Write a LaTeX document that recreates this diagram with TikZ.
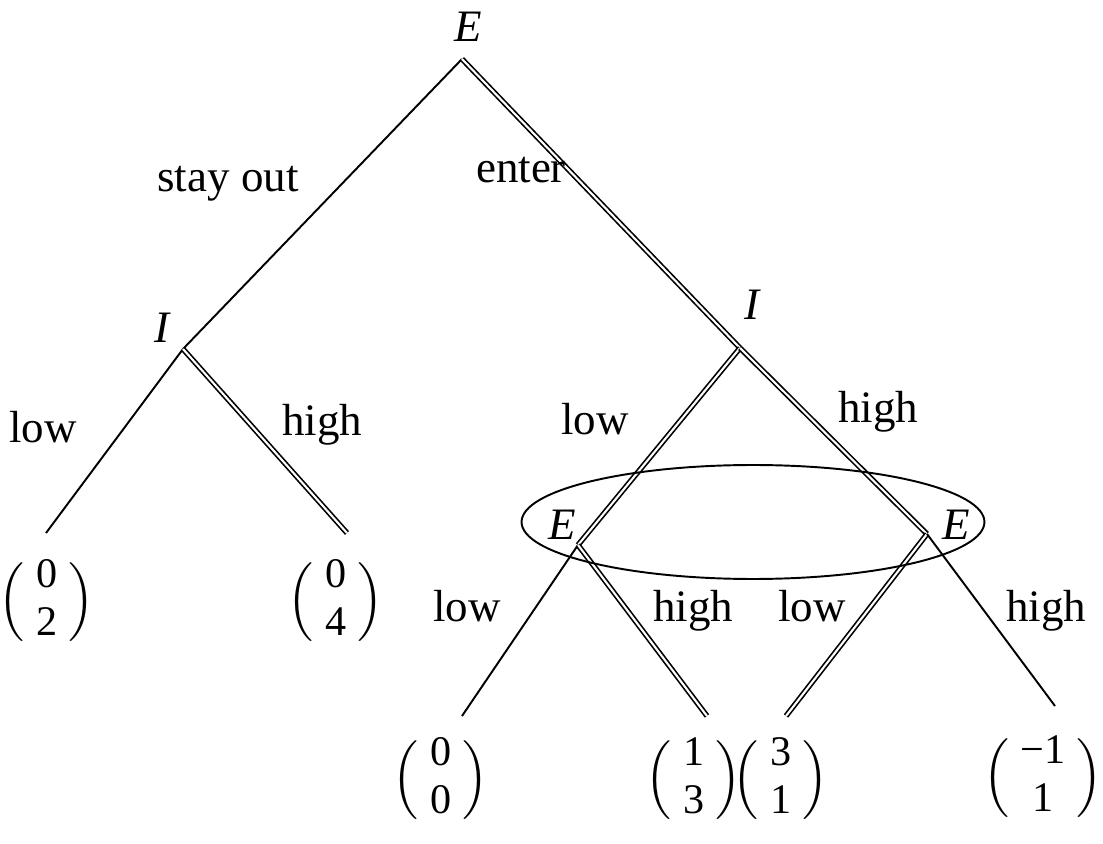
\documentclass[tikz,border=0pt]{standalone}
\usepackage{amsmath}
\usepackage{fontspec}
\setmainfont{Liberation Serif}
\usepackage{tikz}
\usetikzlibrary{positioning}
\newcommand{\payoff}[2]{{\fontsize{24}{27}\selectfont\setlength{\arraycolsep}{6.5pt}%
  \delimiterfactor=800 \delimitershortfall=14pt
  $\left(\begin{array}{c}\text{#1}\\\text{#2}\end{array}\right)$}}

\begin{document}
\begin{tikzpicture}[x=0.02cm,y=-0.02cm,font=\fontsize{25.6}{30}\selectfont,
  move/.style={line width=1.1pt},
  best/.style={double,line width=0.95pt,double distance=1.2pt},
  lbl/.style={anchor=base,inner sep=0pt},
  player/.style={anchor=base,inner sep=0pt,font=\fontsize{25.6}{30}\selectfont\itshape}]
\useasboundingbox (0,0) rectangle (1103,844);
% decision points
\coordinate (e0) at (462,59);
\coordinate (iOut) at (183,349);
\coordinate (iIn) at (740,348);
\coordinate (eLow) at (578,545);
\coordinate (eHigh) at (927,534);
% ends of the last moves
\coordinate (tOutLow) at (46,533);
\coordinate (tOutHigh) at (347,533);
\coordinate (tLowLow) at (462,716);
\coordinate (tLowHigh) at (707,716);
\coordinate (tHighLow) at (786,716);
\coordinate (tHighHigh) at (1055,706);
% players
\node[player] (lE0) at (468,42) {E};
\node[player] (lIOut) at (162,343) {I};
\node[player] (lIIn) at (752,320) {I};
\node[player] (lELow) at (562,540) {E};
\node[player] (lEHigh) at (956,540) {E};
% moves
\draw[move] (e0) -- (iOut);
\draw[best] (e0) -- (iIn);
\draw[move] (iOut) -- (tOutLow);
\draw[best] (iOut) -- (tOutHigh);
\draw[best] (iIn) -- (eLow);
\draw[best] (iIn) -- (eHigh);
\draw[move] (eLow) -- (tLowLow);
\draw[best] (eLow) -- (tLowHigh);
\draw[best] (eHigh) -- (tHighLow);
\draw[move] (eHigh) -- (tHighHigh);
% information set
\draw[line width=1.1pt] (753,522) ellipse [x radius=4.63cm, y radius=1.14cm];
% move labels
\node[lbl] (mOut) at (228,192) {stay out};
\node[lbl] (mIn) at (521,183) {enter};
\node[lbl] (mOutLow) at (43,443) {low};
\node[lbl] (mOutHigh) at (322,436) {high};
\node[lbl] (mInLow) at (595,435) {low};
\node[lbl] (mInHigh) at (878,423) {high};
\node[lbl] (mLowLow) at (467,622) {low};
\node[lbl] (mLowHigh) at (693,622) {high};
\node[lbl] (mHighLow) at (812,622) {low};
\node[lbl] (mHighHigh) at (1046,622) {high};
% payoffs
\node (pOutLow) at (47,602) {\payoff{0}{2}};
\node (pOutHigh) at (336,602) {\payoff{0}{4}};
\node (pLowLow) at (441,780) {\payoff{0}{0}};
\node (pLowHigh) at (694,780) {\payoff{1}{3}};
\node (pHighLow) at (781,780) {\payoff{3}{1}};
\node (pHighHigh) at (1043,778) {\payoff{−1}{1}};
\end{tikzpicture}
\end{document}
